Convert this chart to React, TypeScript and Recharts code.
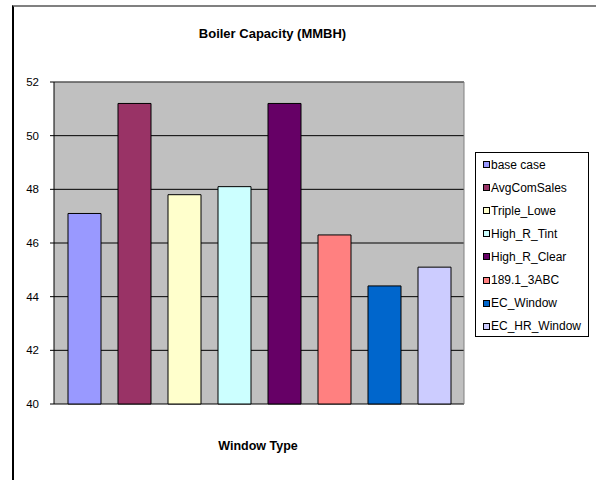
import React from 'react';
import { BarChart, Bar, XAxis, YAxis, CartesianGrid, Legend, ReferenceLine } from 'recharts';

const seriesNames = ['base case', 'AvgComSales', 'Triple_Lowe', 'High_R_Tint', 'High_R_Clear', '189.1_3ABC', 'EC_Window', 'EC_HR_Window'];
const capacities = [47.1, 51.2, 47.8, 48.1, 51.2, 46.3, 44.4, 45.1];
const barColors = ['#9999FF', '#993366', '#FFFFCC', '#CCFFFF', '#660066', '#FF8080', '#0066CC', '#CCCCFF'];
const yTicks = [40, 42, 44, 46, 48, 50, 52];

const FONT = '"Liberation Sans", Arial, sans-serif';

const rows = [{ name: '', values: capacities }];

const LegendBox = ({ payload }: any) => {
  // keep series order, recharts sorts legend items by name
  const items = [...(payload || [])].sort(
    (a: any, b: any) => seriesNames.indexOf(a.value) - seriesNames.indexOf(b.value)
  );
  return (
    <div
      style={{
        width: 114,
        height: 185,
        border: '1px solid #000',
        background: '#fff',
        boxSizing: 'border-box',
        fontFamily: FONT,
        fontSize: 12,
        color: '#000',
      }}
    >
      {items.map((entry: any, i: number) => {
        const idx = seriesNames.indexOf(entry.value);
        return (
          <div key={i} style={{ height: 23.1, display: 'flex', alignItems: 'center', whiteSpace: 'nowrap' }}>
            <span
              style={{
                display: 'inline-block',
                width: 5,
                height: 5,
                marginLeft: 7,
                marginRight: 1,
                border: '1px solid #000',
                background: barColors[idx >= 0 ? idx : i],
              }}
            />
            <span>{entry.value}</span>
          </div>
        );
      })}
    </div>
  );
};

export default function App() {
  return (
    <div style={{ position: 'fixed', left: 0, top: 0, width: 596, height: 480, background: '#fff', overflow: 'hidden' }}>
      <div
        style={{
          position: 'absolute',
          left: 12,
          top: 5,
          width: 584,
          height: 475,
          borderLeft: '2px solid #000',
          borderTop: '2px solid #808080',
          boxSizing: 'border-box',
        }}
      />
      <div
        style={{
          position: 'absolute',
          left: 0,
          width: 545,
          top: 26,
          textAlign: 'center',
          fontFamily: FONT,
          fontWeight: 'bold',
          fontSize: 13,
        }}
      >
        Boiler Capacity (MMBH)
      </div>
      <div
        style={{
          position: 'absolute',
          left: 0,
          width: 516,
          top: 439,
          textAlign: 'center',
          fontFamily: FONT,
          fontWeight: 'bold',
          fontSize: 12.5,
        }}
      >
        Window Type
      </div>
      <div style={{ position: 'absolute', left: 0, top: 0 }}>
        <BarChart
          width={596}
          height={480}
          data={rows}
          margin={{ top: 82, right: 132, bottom: 76, left: 10 }}
          barSize={33}
          barGap={17}
        >
          <CartesianGrid fill="#C0C0C0" stroke="#000" strokeOpacity={1} vertical={false} />
          <CartesianGrid stroke="#808080" horizontal={false} verticalPoints={[464]} />
          <XAxis dataKey="name" tick={false} tickLine={false} axisLine={{ stroke: '#000' }} height={0} />
          <YAxis
            domain={[40, 52]}
            ticks={yTicks}
            interval={0}
            width={44}
            tickSize={4}
            tickMargin={11}
            axisLine={{ stroke: '#000' }}
            tickLine={{ stroke: '#000' }}
            tick={{ fill: '#000', fontSize: 11.5, fontFamily: FONT }}
          />
          <ReferenceLine y={52} stroke="#808080" />
          {seriesNames.map((s, i) => (
            <Bar
              key={s}
              name={s}
              dataKey={(d: any) => d.values[i]}
              fill={barColors[i]}
              stroke="#000"
              strokeWidth={1}
              isAnimationActive={false}
            />
          ))}
          <Legend
            layout="vertical"
            align="center"
            verticalAlign="middle"
            wrapperStyle={{ left: 475, top: 152, width: 114 }}
            content={<LegendBox />}
          />
        </BarChart>
      </div>
    </div>
  );
}
